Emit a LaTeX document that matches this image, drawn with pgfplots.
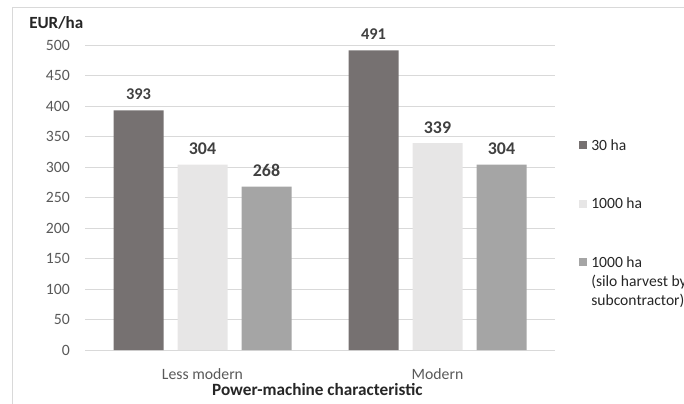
\documentclass[border=0pt]{standalone}
\usepackage{fontspec}
\setmainfont{Carlito}
\usepackage{pgfplots}
\pgfplotsset{compat=1.18}

\definecolor{dark}{HTML}{767171}
\definecolor{light}{HTML}{E7E6E6}
\definecolor{mid}{HTML}{A5A5A5}
\definecolor{gridc}{HTML}{D9D9D9}
\definecolor{tickc}{HTML}{595959}
\definecolor{labc}{HTML}{404040}
\definecolor{titc}{HTML}{262626}

\begin{document}
\begin{tikzpicture}
\useasboundingbox (0,0) rectangle (513pt,302.25pt);
\clip (0,0) rectangle (513pt,302.25pt);
% chart frame (only left and top edges visible)
\draw[gridc, line width=0.75pt] (9.4pt,-1pt) -- (9.4pt,296.6pt) -- (514pt,296.6pt);
\node[anchor=west, inner sep=0pt, text=titc, font=\fontsize{12.8}{15}\selectfont\bfseries]
  at (21.75pt,285pt) {EUR/ha};

\begin{axis}[
  at={(63.75pt,39.75pt)}, anchor=south west,
  scale only axis, width=352.5pt, height=228.75pt,
  ybar=10.5pt, bar width=37.5pt,
  xmin=-0.5, xmax=1.5, ymin=0, ymax=500,
  xtick={0,1}, xticklabels={Less modern, Modern},
  ytick={0,50,...,500},
  ymajorgrids, major grid style={draw=gridc, line width=0.75pt},
  axis line style={draw=none},
  tick style={draw=none},
  /pgf/number format/assume math mode=true,
  ticklabel style={font=\fontsize{11.8}{14}\selectfont, text=tickc},
  yticklabel style={anchor=east, inner sep=0pt, xshift=-11.25pt},
  xticklabel style={anchor=center, inner sep=0pt, yshift=-13.5pt},
  xlabel={Power-machine characteristic},
  xlabel style={at={(axis description cs:0.5,0)}, anchor=center, yshift=-30pt, xshift=-2pt,
    font=\fontsize{12.9}{15}\selectfont\bfseries, text=titc},
  nodes near coords,
  every node near coord/.append style={anchor=center, yshift=12pt, text=labc},
  legend image code/.code={\fill[#1] (0pt,0.8pt) rectangle (6pt,6.8pt);},
  legend style={draw=none, fill=none, inner sep=0pt,
    at={(axis description cs:1,1)}, anchor=north west, xshift=18pt, yshift=-70.5pt,
    font=\fontsize{11.7}{14.25}\selectfont, text=black!85,
    nodes={inner sep=0pt},
    cells={anchor=base west},
    /tikz/row sep={44pt,between origins},
    /tikz/column sep=3pt},
]
\addplot[fill=dark, draw=none,
  every node near coord/.append style={font=\fontsize{12.3}{14}\selectfont\bfseries}]
  coordinates {(0,393) (1,491)};
\addlegendentry{30 ha}
\addplot[fill=light, draw=none,
  every node near coord/.append style={font=\fontsize{13.4}{16}\selectfont\bfseries}]
  coordinates {(0,304) (1,339)};
\addlegendentry{1000 ha}
\addplot[fill=mid, draw=none,
  every node near coord/.append style={font=\fontsize{13.4}{16}\selectfont\bfseries}]
  coordinates {(0,268) (1,304)};
\addlegendentry{\begin{tabular}[t]{@{}l@{}}1000 ha\\(silo harvest by\\subcontractor)\end{tabular}}
\end{axis}
\end{tikzpicture}
\end{document}
